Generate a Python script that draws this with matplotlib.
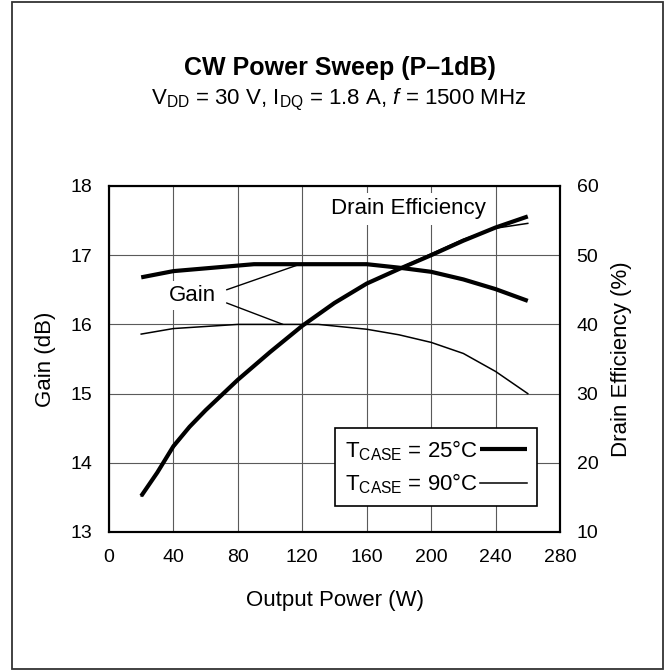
import matplotlib
matplotlib.use("Agg")
import matplotlib.pyplot as plt
from matplotlib.lines import Line2D
from matplotlib.patches import Rectangle

plt.rcParams['font.family'] = ['Liberation Sans', 'DejaVu Sans']
plt.rcParams['mathtext.fontset'] = 'custom'
plt.rcParams['mathtext.rm'] = 'Liberation Sans'
plt.rcParams['mathtext.it'] = 'Liberation Sans:italic'
plt.rcParams['mathtext.bf'] = 'Liberation Sans:bold'

# ---- data ----
gain25_x = [20, 40, 60, 80, 90, 100, 120, 140, 160, 180, 200, 220, 240, 260]
gain25_y = [16.68, 16.77, 16.81, 16.85, 16.87, 16.87, 16.87, 16.87, 16.87, 16.82, 16.76, 16.65, 16.51, 16.34]

gain90_x = [20, 40, 60, 80, 100, 120, 130, 160, 180, 200, 220, 240, 260]
gain90_y = [15.86, 15.94, 15.97, 16.0, 16.0, 16.0, 16.0, 15.93, 15.85, 15.74, 15.58, 15.32, 15.0]

eff25_x = [20, 30, 40, 50, 60, 80, 100, 120, 140, 160, 180, 200, 220, 240, 260]
eff25_y = [15.2, 18.6, 22.4, 25.2, 27.6, 32.0, 36.0, 39.8, 43.1, 45.9, 48.0, 50.0, 52.1, 54.0, 55.6]

eff90_x = [20, 30, 40, 50, 60, 80, 100, 120, 140, 160, 180, 200, 220, 240, 260]
eff90_y = [15.2, 18.6, 22.2, 25.1, 27.6, 32.0, 36.0, 39.8, 43.1, 45.9, 48.1, 50.2, 52.3, 53.9, 54.6]

x_ticks = [0, 40, 80, 120, 160, 200, 240, 280]
gain_ticks = [13, 14, 15, 16, 17, 18]
eff_ticks = [10, 20, 30, 40, 50, 60]

title = "CW Power Sweep (P\u20131dB)"
subtitle = r"V$_{\mathrm{DD}}$ = 30 V, I$_{\mathrm{DQ}}$ = 1.8 A, $f$ = 1500 MHz"
legend_labels = [r"T$_{\mathrm{CASE}}$ = 25°C", r"T$_{\mathrm{CASE}}$ = 90°C"]

# ---- figure ----
W, H = 665, 671
fig = plt.figure(figsize=(W / 100, H / 100), dpi=100)
ax_l, ax_r, ax_t, ax_b = 109, 560, 186, 532
ax = fig.add_axes([ax_l / W, 1 - ax_b / H, (ax_r - ax_l) / W, (ax_b - ax_t) / H])
ax2 = ax.twinx()

thick, thin = 3.0, 1.1
ax.plot(gain25_x, gain25_y, color='black', lw=thick, solid_capstyle='butt', zorder=3)
ax.plot(gain90_x, gain90_y, color='black', lw=thin, zorder=3)
ax2.plot(eff25_x, eff25_y, color='black', lw=thick, solid_capstyle='butt', zorder=3)
ax2.plot(eff90_x, eff90_y, color='black', lw=thin, zorder=3)

ax.set_xlim(0, 280)
ax.set_ylim(13, 18)
ax2.set_ylim(10, 60)
ax.set_xticks(x_ticks)
ax.set_yticks(gain_ticks)
ax2.set_yticks(eff_ticks)

ax.grid(True, color='#5a5a5a', lw=0.8)
ax.set_axisbelow(True)
for a in (ax, ax2):
    a.tick_params(length=0, labelsize=14, pad=12)
    for s in a.spines.values():
        s.set_linewidth(1.5)
        s.set_color('black')

ax.set_xlabel("Output Power (W)", fontsize=16)
ax.set_ylabel("Gain (dB)", fontsize=16)
ax2.set_ylabel("Drain Efficiency (%)", fontsize=16)
ax.xaxis.set_label_coords(0.5, -0.197)
ax.xaxis.label.set_va('center')
ax.yaxis.set_label_coords(-0.14, 0.5)
ax.yaxis.label.set_va('center')
ax2.yaxis.set_label_coords(1.137, 0.5)
ax2.yaxis.label.set_va('center')

# annotations
ax.text(186, 17.67, "Drain Efficiency", fontsize=16, ha='center', va='center',
        bbox=dict(facecolor='white', edgecolor='none', pad=4), zorder=2)
ax.text(52, 16.42, "Gain", fontsize=16, ha='center', va='center',
        bbox=dict(facecolor='white', edgecolor='none', pad=3), zorder=2)
ax.annotate("", xy=(118.6, 16.87), xytext=(73, 16.50),
            arrowprops=dict(arrowstyle='-', color='black', lw=1.0, shrinkA=0, shrinkB=0))
ax.annotate("", xy=(108, 16.0), xytext=(73, 16.31),
            arrowprops=dict(arrowstyle='-', color='black', lw=1.0, shrinkA=0, shrinkB=0))

# legend
handles = [Line2D([], [], color='black', lw=thick, solid_capstyle='butt'),
           Line2D([], [], color='black', lw=thin)]
leg = ax2.legend(handles, legend_labels, loc='lower left',
                 bbox_to_anchor=(0.501, 0.075), markerfirst=False,
                 fontsize=16, handlelength=2.1, handletextpad=0.1,
                 borderpad=0.45, labelspacing=0.4, borderaxespad=0,
                 fancybox=False, framealpha=1, edgecolor='black')
leg.get_frame().set_linewidth(1.2)
leg.set_zorder(10)

# titles
fig.text(0.511, 1 - 68 / H, title, fontsize=18, fontweight='bold', ha='center', va='center')
fig.text(0.51, 1 - 100 / H, subtitle, fontsize=16, ha='center', va='center')

# outer frame
fig.add_artist(Rectangle((12 / W, 1 - 669 / H), (663 - 12) / W, (669 - 2) / H,
                         transform=fig.transFigure, fill=False, edgecolor='#333333', lw=1.3))

fig.savefig("out.png", dpi=100)
